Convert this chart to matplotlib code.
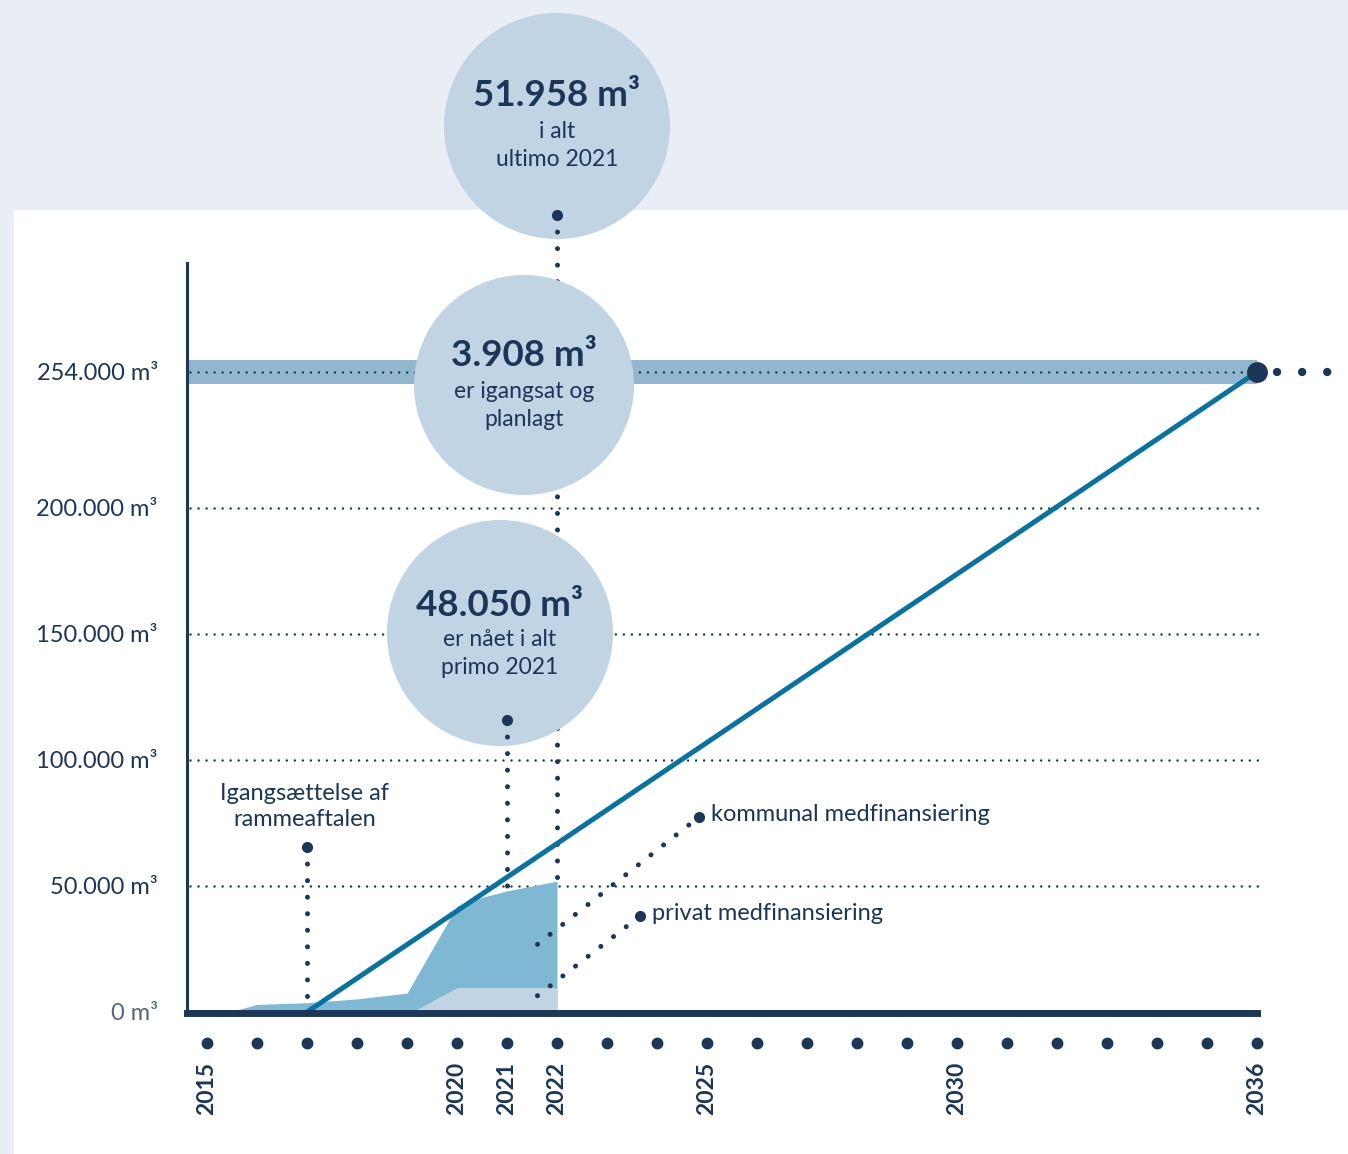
import matplotlib
matplotlib.use("Agg")
import matplotlib.pyplot as plt
from matplotlib.patches import Circle, Rectangle

plt.rcParams["font.family"] = ["Lato", "DejaVu Sans"]

NAVY = "#1c3658"
BG = "#e9eef5"
CIRCLE = "#c0d4e3"
DARK_AREA = "#7fb8d3"
LIGHT_AREA = "#c0d4e3"
BAND = "#93b6d0"
TREND = "#0872a1"
GRID = "#12403a"

# data
years_total = [2015.45, 2016, 2017, 2018, 2019, 2020, 2020.5, 2021, 2022]
total_m3 = [0, 3000, 3700, 5200, 7500, 42000, 45500, 48050, 51958]
years_priv = [2019.1, 2020, 2022]
priv_m3 = [0, 9700, 9700]
trend_years = [2017, 2036]
trend_m3 = [0, 254000]
goal = 254000
ytick_vals = [0, 50000, 100000, 150000, 200000, 254000]
ytick_labels = ["0 m³", "50.000 m³", "100.000 m³", "150.000 m³", "200.000 m³", "254.000 m³"]
all_years = list(range(2015, 2037))
labelled_years = [2015, 2020, 2021, 2022, 2025, 2030, 2036]

W, H = 1348, 1154
fig = plt.figure(figsize=(W / 100, H / 100), dpi=100, facecolor=BG)
fig.patches.append(Rectangle((14 / W, 0), 1 - 14 / W, (H - 210) / H,
                             transform=fig.transFigure, color="white", zorder=-5))

ax = fig.add_axes([187 / W, (H - 1013) / H, (1257 - 187) / W, (1013 - 263) / H])
ax.set_facecolor("none")
ax.set_xlim(2014.6, 2036.0)
ax.set_ylim(-397, 297222)
for s in ["top", "right"]:
    ax.spines[s].set_visible(False)
ax.spines["left"].set_color(NAVY)
ax.spines["left"].set_linewidth(2.2)
ax.spines["bottom"].set_color(NAVY)
ax.spines["bottom"].set_linewidth(5)
ax.spines["bottom"].set_zorder(6)


def pin(x, y):
    # pixel position (from top-left) -> inches for dpi_scale_trans
    return x / 100, (H - y) / 100


PT = fig.dpi_scale_trans

# y ticks
ax.set_yticks(ytick_vals)
ax.set_yticklabels(ytick_labels, fontsize=17, color=NAVY)
ax.tick_params(axis="y", length=0, pad=21)
ax.get_yticklabels()[0].set_color("#52667f")

# x ticks
ax.set_xticks(all_years)
ax.set_xticklabels([str(y) if y in labelled_years else "" for y in all_years],
                   rotation=90, fontsize=16.5, fontweight="bold", color=NAVY)
ax.tick_params(axis="x", length=0, pad=35)
for lbl in ax.get_xticklabels():
    lbl.set_x(lbl.get_position()[0])
ax.plot(all_years, [-0.04] * len(all_years), "o", ms=7.5, color=NAVY,
        transform=ax.get_xaxis_transform(), clip_on=False)

# goal band and grid
ax.axhspan(goal - 4760, goal + 4760, color=BAND, zorder=1, lw=0)
for v in [50000, 100000, 150000, 200000, goal]:
    ax.plot([2014.65, 2036.1], [v, v], color=GRID, lw=1.8,
            linestyle=(0, (0.01, 3.2)), dash_capstyle="round", zorder=1.5, clip_on=False)

# areas
ax.fill_between(years_total, 0, total_m3, color=DARK_AREA, lw=0, zorder=2)
ax.fill_between(years_priv, 0, priv_m3, color=LIGHT_AREA, lw=0, zorder=2.1)

# trend
ax.plot(trend_years, trend_m3, color=TREND, lw=3.6, zorder=5, solid_capstyle="butt")
ax.plot([2036], [goal], "o", ms=14, color=NAVY, zorder=7, clip_on=False)
ax.plot([2036.4, 2038.0], [goal, goal], color=NAVY, lw=6,
        linestyle=(0, (0.01, 3.0)), dash_capstyle="round", zorder=7, clip_on=False)

# vertical dotted leaders


def vline(x, y0, y1, z):
    ax.plot([x, x], [y0, y1], color=NAVY, lw=3.6, linestyle=(0, (0.01, 3.3)),
            dash_capstyle="round", zorder=z, clip_on=False)
    ax.plot([x], [y0], "o", ms=7, color=NAVY, zorder=z, clip_on=False)


vline(2017, 65500, 6000, 4)
vline(2022, 316300, total_m3[-1], 3)
vline(2021, 115900, total_m3[-2], 8)

# circles
circles = [
    ((557, 126), 113, 2.5, ["51.958 m³", "i alt", "ultimo 2021"], [96, 131, 160]),
    ((524, 385), 110, 4, ["3.908 m³", "er igangsat og", "planlagt"], [355, 391, 419]),
    ((500, 633), 113, 4, ["48.050 m³", "er nået i alt", "primo 2021"], [605, 639, 667]),
]
for (cx, cy), r, z, lines, ys in circles:
    ax.add_patch(Circle(pin(cx, cy), r / 100, transform=PT, color=CIRCLE,
                        lw=0, zorder=z, clip_on=False))
    for i, (t, ty) in enumerate(zip(lines, ys)):
        ax.text(*pin(cx, ty), t, transform=PT, ha="center", va="center",
                fontsize=26.5 if i == 0 else 16.5, fontweight="bold" if i == 0 else "normal",
                color=NAVY, zorder=z + 0.1, clip_on=False)

# diagonal leaders
for (x0, y0), (x1, y1) in [((2021.61, 26870), (2024.84, 77380)),
                           ((2021.61, 6470), (2023.66, 38100))]:
    ax.plot([x0, x1], [y0, y1], color=NAVY, lw=3.6, linestyle=(0, (0.01, 3.2)),
            dash_capstyle="round", zorder=6, clip_on=False)
    ax.plot([x1], [y1], "o", ms=7, color=NAVY, zorder=6)

ax.text(2025.08, 78570, "kommunal medfinansiering", fontsize=17, color=NAVY,
        va="center", ha="left")
ax.text(2023.9, 38890, "privat medfinansiering", fontsize=17, color=NAVY,
        va="center", ha="left")
ax.text(2016.96, 81550, "Igangsættelse af\nrammeaftalen", fontsize=17, color=NAVY,
        va="center", ha="center", linespacing=1.3)

fig.savefig("out.png", dpi=100, facecolor=BG)
